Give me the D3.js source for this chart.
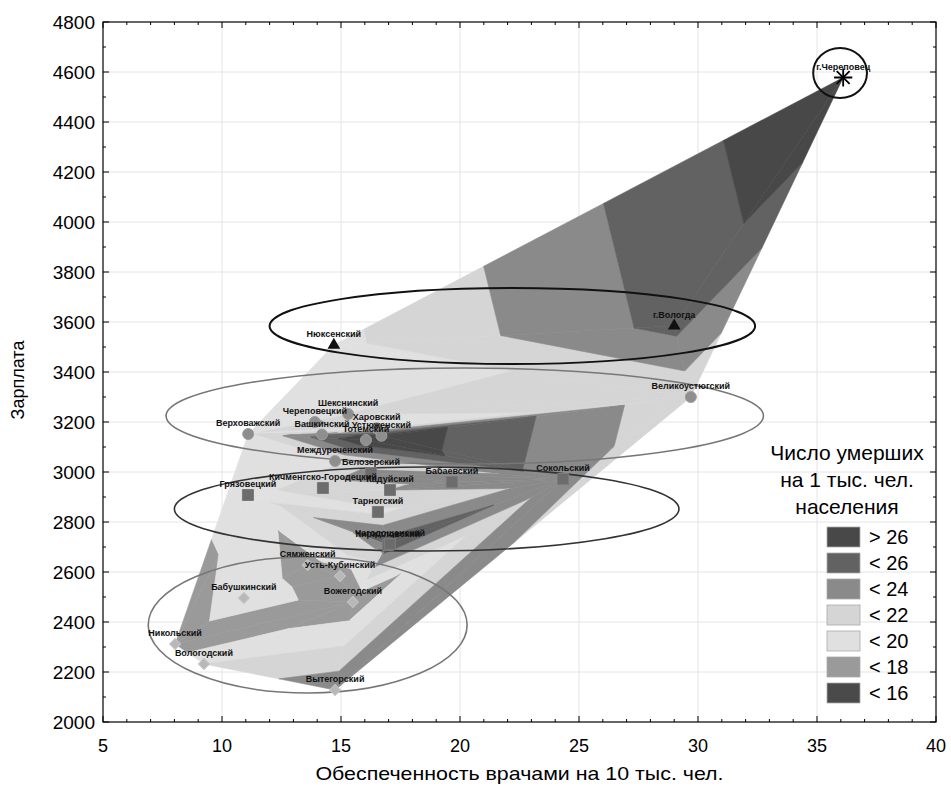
<!DOCTYPE html>
<html><head><meta charset="utf-8">
<script src="https://cdn.jsdelivr.net/npm/d3@7"></script>
<style>body{margin:0;background:#fff}</style>
</head><body><svg id="c" width="951" height="786"></svg>
<script>
// ---------- DATA ----------
const districts = ["г.Череповец","г.Вологда","Нюксенский","Великоустюгский","Верховажский","Шекснинский","Череповецкий","Вашкинский","Харовский","Устюженский","Тотемский","Междуреченский","Белозерский","Кичменгско-Городецкий","Кадуйский","Грязовецкий","Тарногский","Бабаевский","Сокольский","Кирилловский","Чагодощенский","Сямженский","Усть-Кубинский","Бабушкинский","Вожегодский","Никольский","Вологодский","Вытегорский"];
const doctors = [36.1,29.0,14.7,29.7,11.1,15.3,13.9,14.2,16.5,16.7,16.05,14.75,16.26,14.24,17.06,11.09,16.55,19.66,24.33,16.97,17.06,13.6,14.96,10.92,15.5,8.03,9.24,14.75];
const salary = [4578,3585,3508,3300,3152,3232,3200,3150,3175,3145,3128,3044,2996,2936,2928,2908,2840,2960,2972,2708,2712,2628,2584,2496,2480,2312,2232,2128];
const deaths = [28,24.6,19.5,20.5,19.5,20,22.5,23,19.5,27.5,28,19.5,23,21,22,19,19.5,22.5,23,23,25.5,17,16.5,19.5,16.5,16.5,20,23.5];
const markerKind = ["star","tri","tri","circle","circle","circle","circle","circle","circle","circle","circle","circle","square","square","square","square","square","square","square","square","square","diamond","diamond","diamond","diamond","diamond","diamond","diamond"];
const xTicks = [5,10,15,20,25,30,35,40];
const yTicks = [2000,2200,2400,2600,2800,3000,3200,3400,3600,3800,4000,4200,4400,4600,4800];
const bandThresholds = [16,18,20,22,24,26];
const bandColors = ["#4a4a4a","#9a9a9a","#e0e0e0","#d5d5d5","#8a8a8a","#626262","#484848"]; // low -> high
const legendLabels = ["> 26","< 26","< 24","< 22","< 20","< 18","< 16"];
const legendTitle = ["Число умерших","на 1 тыс. чел.","населения"];
const xTitle = "Обеспеченность врачами на 10 тыс. чел.";
const yTitle = "Зарплата";
// group ellipses (data units)
const ellCx = [35.97, 22.2, 20.2, 18.6, 13.6];
const ellCy = [4596, 3584, 3224, 2852, 2388];
const ellRx = [1.13, 10.2, 12.55, 10.6, 6.7];
const ellRy = [100, 152, 192, 168, 272];
const ellColor = ["#111","#111","#777","#333","#777"];

// ---------- SETUP ----------
const svg = d3.select("#c");
const L=103,R=936,T=22,B=722;
const x = d3.scaleLinear([5,40],[L,R]);
const y = d3.scaleLinear([2000,4800],[B,T]);
const FONT="'Liberation Sans',Arial,sans-serif";

// grid
const g0 = svg.append("g");
g0.selectAll(".gx").data(xTicks.slice(1,-1)).join("line")
  .attr("x1",d=>x(d)).attr("x2",d=>x(d)).attr("y1",T).attr("y2",B)
  .attr("stroke","#e4e4e4").attr("stroke-width",1);
g0.selectAll(".gy").data(yTicks.slice(1,-1)).join("line")
  .attr("y1",d=>y(d)).attr("y2",d=>y(d)).attr("x1",L).attr("x2",R)
  .attr("stroke","#e4e4e4").attr("stroke-width",1);

// ---------- CONTOUR FILL via triangulation in data units ----------
const del = d3.Delaunay.from(doctors.map((d,i)=>[d, salary[i]]));
const pts = doctors.map((d,i)=>[x(d), y(salary[i]), deaths[i]]);
const tri = del.triangles;
function clip(poly, f){ // keep f>=0
  const out=[];
  for(let i=0;i<poly.length;i++){
    const a=poly[i], b=poly[(i+1)%poly.length];
    const fa=f(a), fb=f(b);
    if(fa>=0) out.push(a);
    if((fa>=0)!==(fb>=0)){
      const t=fa/(fa-fb);
      out.push([a[0]+t*(b[0]-a[0]), a[1]+t*(b[1]-a[1]), a[2]+t*(b[2]-a[2])]);
    }
  }
  return out;
}
const polys=[];
for(let k=0;k<tri.length;k+=3){
  const P=[pts[tri[k]],pts[tri[k+1]],pts[tri[k+2]]];
  for(let b=0;b<bandColors.length;b++){
    const lo = b===0?-Infinity:bandThresholds[b-1];
    const hi = b===bandColors.length-1?Infinity:bandThresholds[b];
    let poly=P;
    if(lo>-Infinity) poly=clip(poly,p=>p[2]-lo);
    if(poly.length>=3 && hi<Infinity) poly=clip(poly,p=>hi-p[2]);
    if(poly.length>=3) polys.push({poly,b});
  }
}
const line = d3.line();
svg.append("g").selectAll("path").data(polys).join("path")
  .attr("d",d=>line(d.poly.map(p=>[p[0],p[1]]))+"Z")
  .attr("fill",d=>bandColors[d.b]).attr("stroke",d=>bandColors[d.b]).attr("stroke-width",0.6)
  .attr("stroke-linejoin","round");

// ---------- ELLIPSES ----------
svg.append("g").selectAll("ellipse").data(ellCx).join("ellipse")
  .attr("cx",(d)=>x(d)).attr("cy",(d,i)=>y(ellCy[i]))
  .attr("rx",(d,i)=>x(5+ellRx[i])-x(5)).attr("ry",(d,i)=>y(2000)-y(2000+ellRy[i]))
  .attr("fill","none").attr("stroke",(d,i)=>ellColor[i]).attr("stroke-width",(d,i)=>i<2?2:1.6);

// ---------- MARKERS ----------
const mg = svg.append("g");
pts.forEach((p,i)=>{
  const k=markerKind[i];
  const t=`translate(${p[0]},${p[1]})`;
  if(k==="circle") mg.append("path").attr("d",d3.symbol(d3.symbolCircle,95)()).attr("transform",t).attr("fill","#8e8e8e").attr("stroke","#9c9c9c");
  else if(k==="square") mg.append("path").attr("d",d3.symbol(d3.symbolSquare,121)()).attr("transform",t).attr("fill","#6c6c6c").attr("stroke","#7a7a7a");
  else if(k==="diamond") mg.append("path").attr("d",d3.symbol(d3.symbolSquare,60)()).attr("transform",t+" rotate(45)").attr("fill","#b8b8b8").attr("stroke","#c4c4c4");
  else if(k==="tri") mg.append("path").attr("d",d3.symbol(d3.symbolTriangle,70)()).attr("transform",t).attr("fill","#111");
  else { mg.append("path").attr("d",d3.symbol(d3.symbolPlus,110)()).attr("transform",t).attr("stroke","#000").attr("stroke-width",1.8).attr("fill","none");
         mg.append("path").attr("d",d3.symbol(d3.symbolTimes,110)()).attr("transform",t).attr("stroke","#000").attr("stroke-width",1.8).attr("fill","none"); }
});
// labels
svg.append("g").selectAll("text").data(districts).join("text")
  .attr("x",(d,i)=>pts[i][0]).attr("y",(d,i)=>pts[i][1]-8)
  .attr("text-anchor","middle").attr("font-family",FONT)
  .attr("font-size",9).attr("font-weight","bold").attr("fill","#111").text(d=>d);

// ---------- AXES / FRAME ----------
const ax = svg.append("g");
ax.append("rect").attr("x",L).attr("y",T).attr("width",R-L).attr("height",B-T).attr("fill","none").attr("stroke","#000").attr("stroke-width",1.2);
const xMinor = d3.range(5,40.01,1), yMinor = d3.range(2000,4800.1,100);
xMinor.forEach(v=>{ const len = v%5===0?6:3;
  ax.append("line").attr("x1",x(v)).attr("x2",x(v)).attr("y1",B).attr("y2",B-len).attr("stroke","#000");
  ax.append("line").attr("x1",x(v)).attr("x2",x(v)).attr("y1",T).attr("y2",T+len).attr("stroke","#000");});
yMinor.forEach(v=>{ const len = v%200===0?6:3;
  ax.append("line").attr("y1",y(v)).attr("y2",y(v)).attr("x1",L).attr("x2",L+len).attr("stroke","#000");
  ax.append("line").attr("y1",y(v)).attr("y2",y(v)).attr("x1",R).attr("x2",R-len).attr("stroke","#000");});
ax.selectAll(".xl").data(xTicks).join("text").attr("x",d=>x(d)).attr("y",752)
  .attr("text-anchor","middle").attr("font-family",FONT).attr("font-size",18).text(d=>d);
ax.selectAll(".yl").data(yTicks).join("text").attr("x",95).attr("y",d=>y(d)+6.5)
  .attr("text-anchor","end").attr("font-family",FONT).attr("font-size",19).text(d=>d);
ax.append("text").attr("x",(L+R)/2).attr("y",780).attr("text-anchor","middle")
  .attr("font-family",FONT).attr("font-size",19).attr("textLength",408).attr("lengthAdjust","spacingAndGlyphs").text(xTitle);
ax.append("text").attr("transform",`translate(24,${(T+B)/2+8}) rotate(-90)`).attr("text-anchor","middle")
  .attr("font-family",FONT).attr("font-size",18).text(yTitle);

// ---------- LEGEND ----------
const lg = svg.append("g");
lg.selectAll(".lt").data(legendTitle).join("text").attr("x",847).attr("y",(d,i)=>460+i*27)
  .attr("text-anchor","middle").attr("font-family",FONT).attr("font-size",21).text(d=>d);
const legColors = bandColors.slice().reverse();
lg.selectAll("rect").data(legendLabels).join("rect").attr("x",827).attr("y",(d,i)=>527+i*26)
  .attr("width",33).attr("height",20).attr("fill",(d,i)=>legColors[i]).attr("stroke","#aaa").attr("stroke-width",0.8);
lg.selectAll(".ll").data(legendLabels).join("text").attr("x",869).attr("y",(d,i)=>544+i*26)
  .attr("font-family",FONT).attr("font-size",20).text(d=>d);
</script></body></html>
